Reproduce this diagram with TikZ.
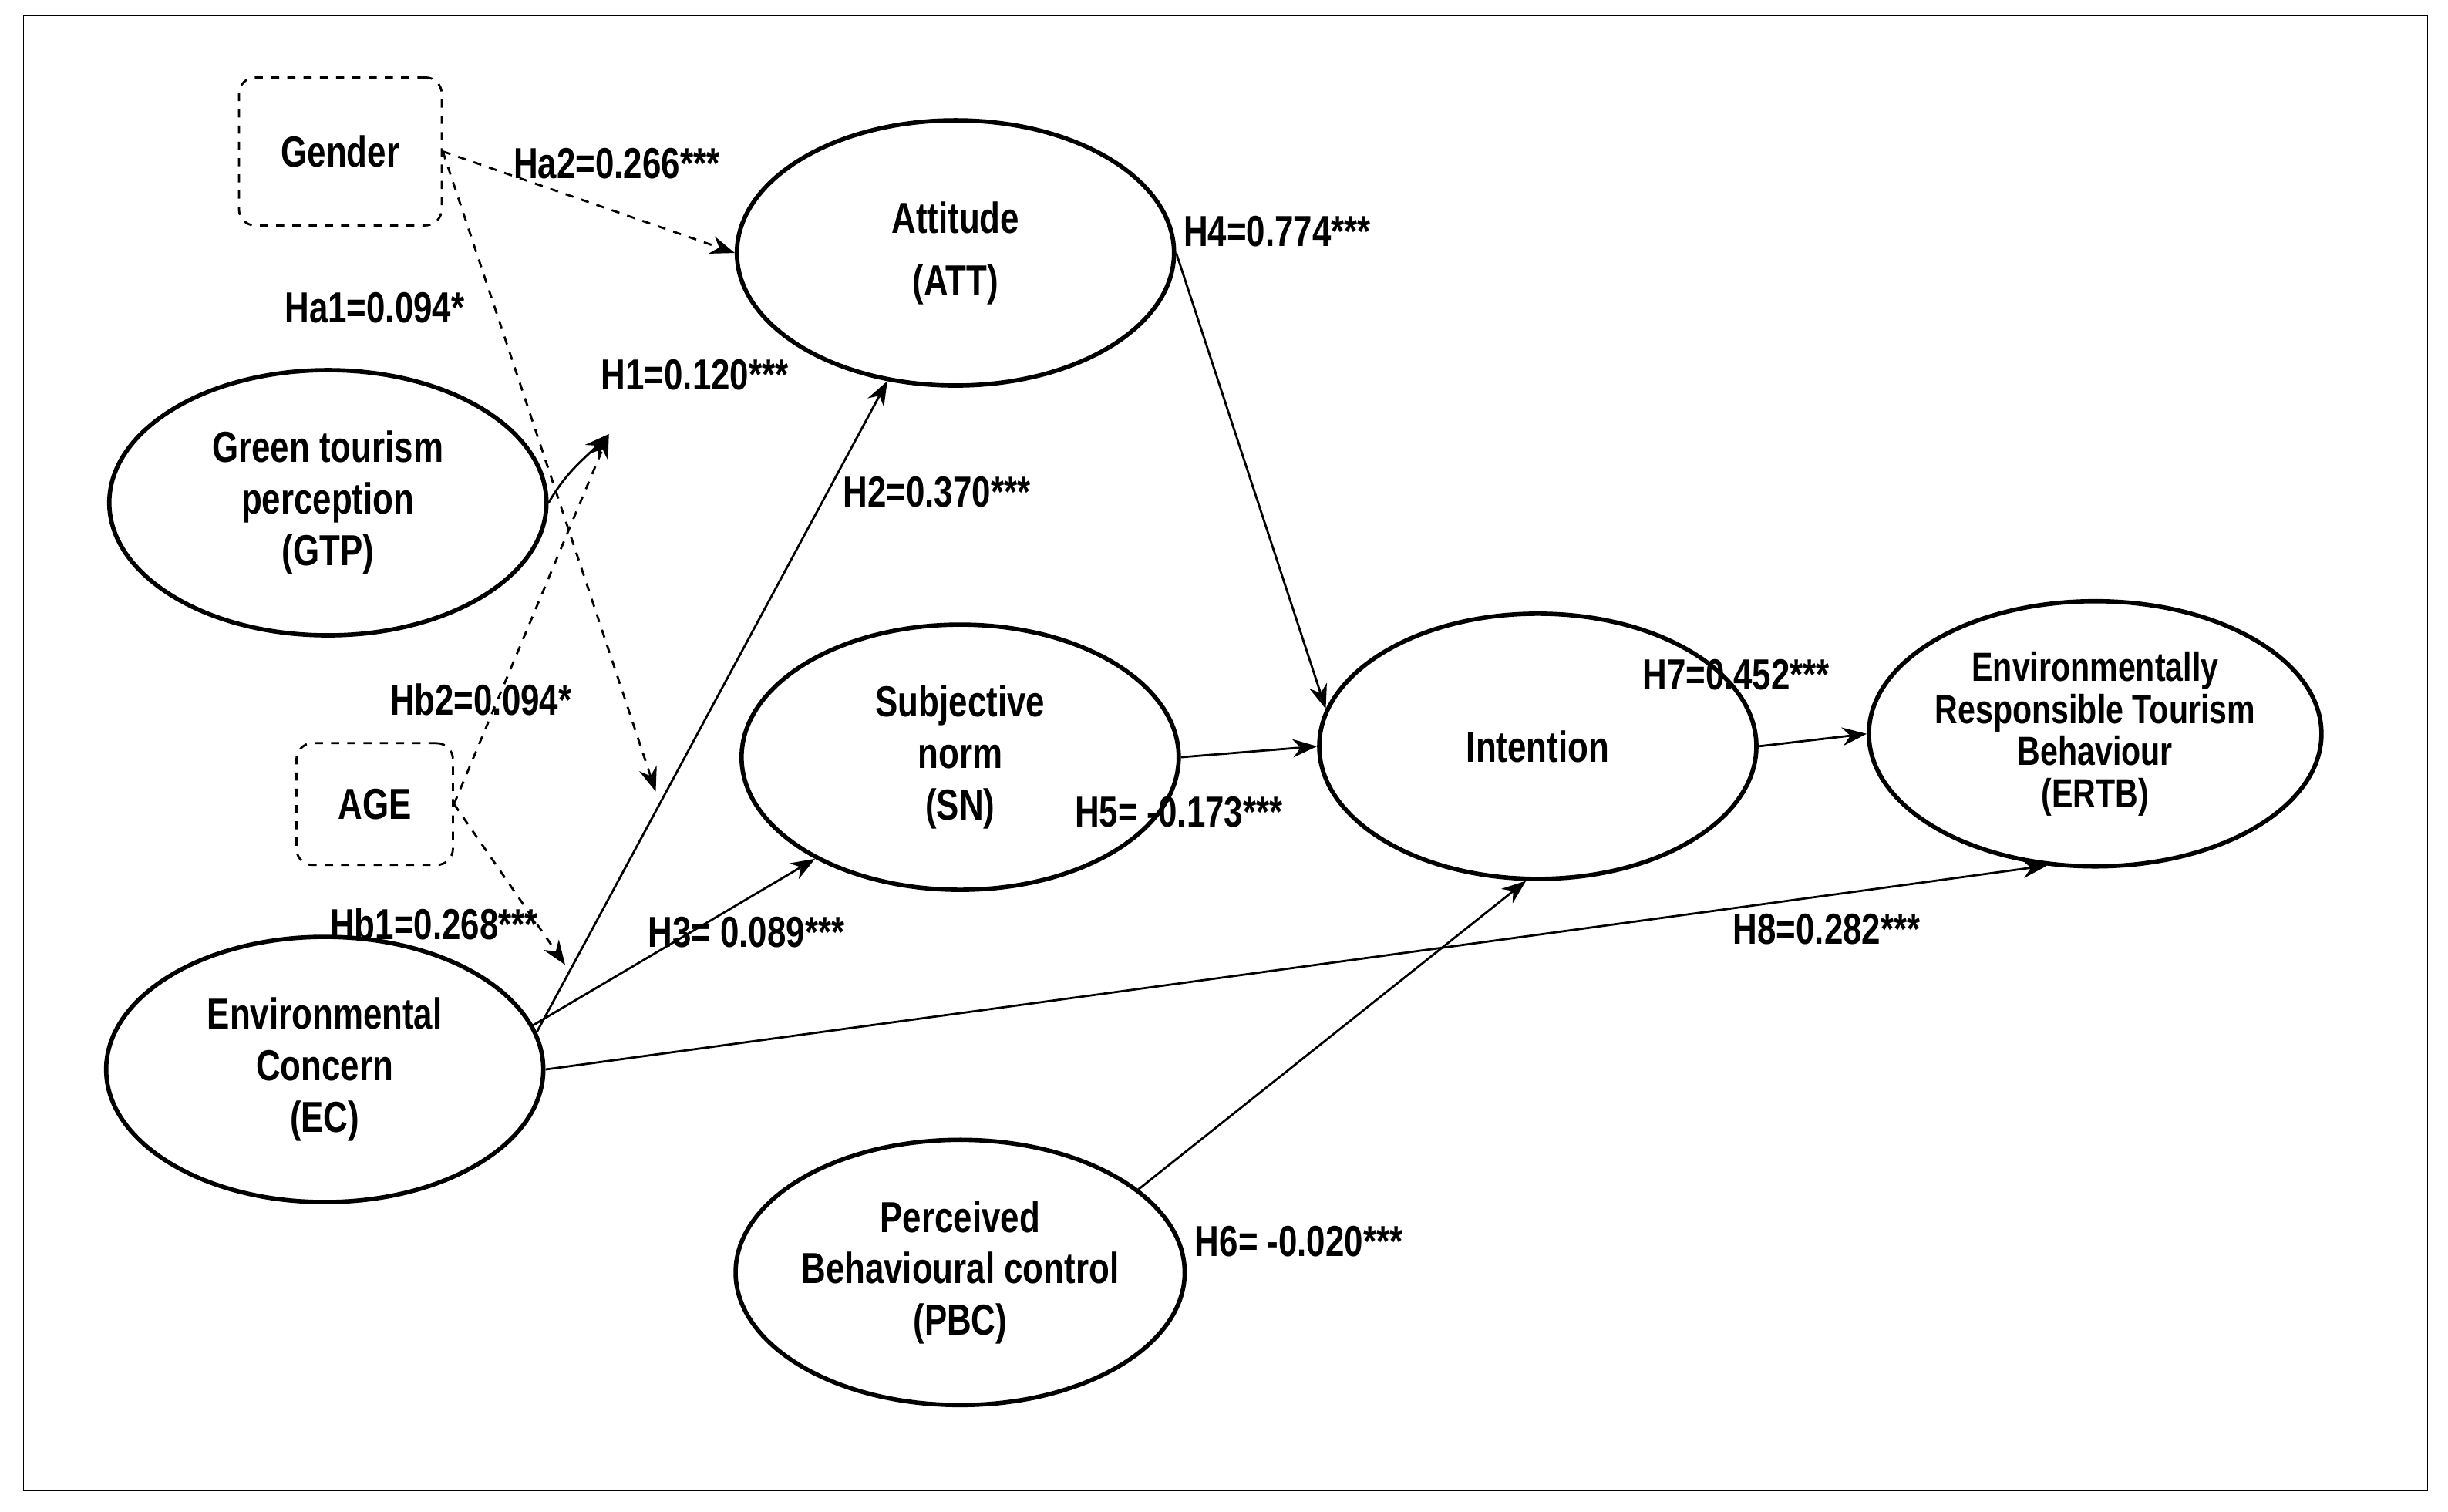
\documentclass[tikz,border=0pt]{standalone}
\usepackage{fontspec}
\setmainfont{Liberation Sans}[FakeStretch=0.78]
\usetikzlibrary{shapes.geometric}
\usetikzlibrary{arrows.meta}

\begin{document}
\begin{tikzpicture}[x=0.2025mm, y=-0.2025mm, thick, font=\fontsize{16}{19}\selectfont\bfseries,
  construct/.style={ellipse, draw, line width=1.6pt, inner sep=0pt, minimum width=56.7mm, minimum height=34.4mm, align=center},
  moderator/.style={rectangle, rounded corners=6pt, draw, dashed},
  path/.style={-{Stealth[length=9pt]}},
  modpath/.style={dashed, -{Stealth[length=9pt]}},
  lbl/.style={inner sep=1pt}]
\useasboundingbox (0,0) rectangle (1568,968);
\draw[thin] (15,10) rectangle (1555,955);

% constructs
\node [construct] (gtp) at (210,322) {Green tourism\\perception\\(GTP)};
\node [construct] (ec) at (208,685) {Environmental\\Concern\\(EC)};
\node [construct] (att) at (612,162) {Attitude\\[4pt](ATT)};
\node [construct] (sn) at (615,485) {Subjective\\norm\\(SN)};
\node [construct] (pbc) at (615,815) {Perceived\\Behavioural control\\(PBC)};
\node [construct] (int) at (985,478) {Intention};
\node [construct, font=\fontsize{15}{15.5}\selectfont\bfseries] (ertb) at (1342,470) {Environmentally\\Responsible Tourism\\Behaviour\\(ERTB)};

% moderators
\node [moderator, minimum width=26.3mm, minimum height=19.2mm] (gender) at (218,97) {Gender};
\node [moderator, minimum width=20.3mm, minimum height=15.8mm] (age) at (240,515) {AGE};

% targets of moderation
\coordinate (m1) at (390,278);
\coordinate (m2) at (420,507);
\coordinate (m3) at (362,618);

% main paths
\draw[path] (gtp.east) to[out=60,in=225] (m1);
\draw[path] (ec.10) -- (att.-118);
\draw[path] (ec.12) -- (sn.-145);
\draw[path] (ec.east) -- (ertb.-110);
\draw[path] (att.east) -- (int.170);
\draw[path] (sn.east) -- (int.west);
\draw[path] (pbc.25) -- (int.-95);
\draw[path] (int.east) -- (ertb.west);

% moderation paths
\draw[modpath] (gender.east) -- (att.west);
\draw[modpath] (gender.east) -- (m2);
\draw[modpath] (age.east) -- (m1);
\draw[modpath] (age.east) -- (m3);

% labels
\node [lbl] (ha2) at (395,105) {Ha2=0.266***};
\node [lbl] (ha1) at (240,197) {Ha1=0.094*};
\node [lbl] (h1) at (445,240) {H1=0.120***};
\node [lbl] (h2) at (600,315) {H2=0.370***};
\node [lbl] (hb2) at (308,448) {Hb2=0.094*};
\node [lbl] (hb1) at (278,592) {Hb1=0.268***};
\node [lbl] (h3) at (478,597) {H3= 0.089***};
\node [lbl] (h4) at (818,148) {H4=0.774***};
\node [lbl] (h5) at (755,520) {H5= -0.173***};
\node [lbl] (h6) at (832,795) {H6= -0.020***};
\node [lbl] (h7) at (1112,432) {H7=0.452***};
\node [lbl] (h8) at (1170,595) {H8=0.282***};
\end{tikzpicture}
\end{document}
